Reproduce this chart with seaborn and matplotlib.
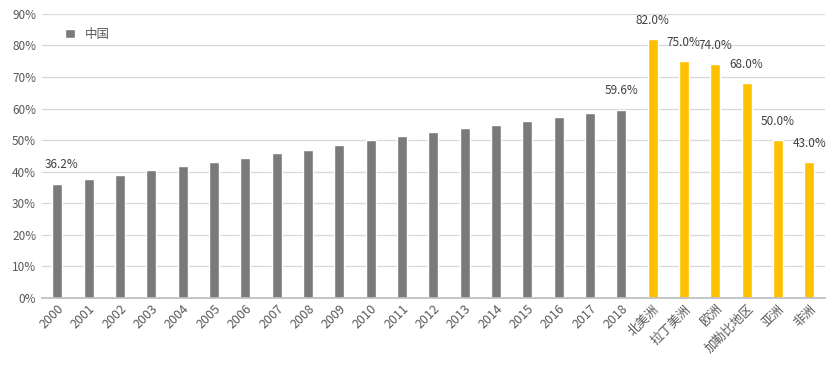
import matplotlib
matplotlib.use("Agg")
import matplotlib.pyplot as plt
import seaborn as sns
import pandas as pd
from matplotlib.patches import Patch
from matplotlib.ticker import FuncFormatter

years = [str(y) for y in range(2000, 2019)]
china_values = [36.22, 37.66, 39.09, 40.53, 41.76, 42.99, 44.34, 45.89, 46.99, 48.34,
                49.95, 51.27, 52.57, 53.73, 54.77, 56.10, 57.35, 58.52, 59.58]
regions = ["北美洲", "拉丁美洲", "欧洲", "加勒比地区", "亚洲", "非洲"]
region_values = [82.0, 75.0, 74.0, 68.0, 50.0, 43.0]

categories = years + regions
values = china_values + region_values
groups = ["中国"] * len(years) + ["世界"] * len(regions)
df = pd.DataFrame({"cat": categories, "val": [v / 100 for v in values], "grp": groups})

sns.set_theme(style="white")
plt.rcParams['font.family'] = ['Noto Sans CJK SC', 'DejaVu Sans']

fig = plt.figure(figsize=(8.34, 3.74), dpi=100)
ax = fig.add_axes([0.05, 0.203, 0.939, 0.760])

sns.barplot(data=df, x="cat", y="val", hue="grp", dodge=False, width=0.32,
            saturation=1, palette={"中国": "#7a7a7a", "世界": "#ffc000"}, ax=ax,
            legend=False, order=categories)

ax.set_ylim(0, 0.9)
ax.set_xlim(-0.5, len(categories) - 0.5)
ax.set_yticks([i / 10 for i in range(10)])
ax.yaxis.set_major_formatter(FuncFormatter(lambda v, p: f"{int(round(v * 100))}%"))
ax.grid(axis="y", color="#d9d9d9", linewidth=0.9)
ax.set_axisbelow(True)
for s in ["top", "right", "left"]:
    ax.spines[s].set_visible(False)
ax.spines["bottom"].set_color("#bfbfbf")
ax.set_xlabel("")
ax.set_ylabel("")
ax.tick_params(axis="y", labelsize=8.5, colors="#595959", length=0, pad=4)
ax.tick_params(axis="x", labelsize=9, colors="#595959", length=0, pad=3)
plt.setp(ax.get_xticklabels(), rotation=45, ha="right", rotation_mode="anchor")

labeled = {0: values[0], 18: values[18]}
for i, v in enumerate(region_values):
    labeled[19 + i] = v
for i, v in labeled.items():
    ax.annotate(f"{v:.1f}%", (i, v / 100), xytext=(3 if i == 0 else 0, 9),
                textcoords="offset points", ha="center", va="bottom",
                fontsize=8.5, color="#404040")

ax.legend(handles=[Patch(facecolor="#7a7a7a", label="中国")], loc="upper left",
          bbox_to_anchor=(0.015, 0.99), frameon=False, fontsize=9,
          handlelength=0.8, handleheight=0.8, labelcolor="#595959")

fig.savefig("out.png", dpi=100)
